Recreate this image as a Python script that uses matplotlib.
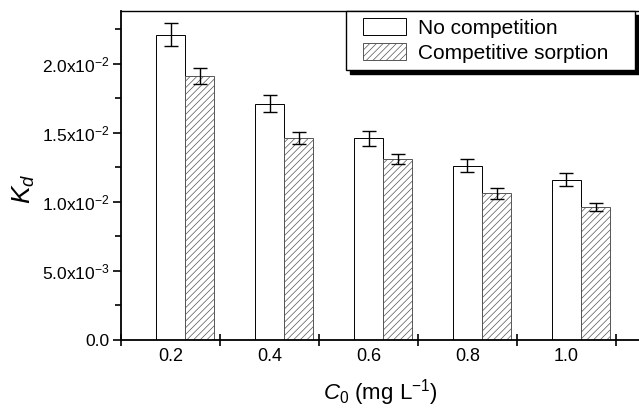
import numpy as np
import matplotlib
matplotlib.use("Agg")
import matplotlib.pyplot as plt
from matplotlib.ticker import MultipleLocator
from matplotlib.container import BarContainer
from matplotlib.legend_handler import HandlerPatch, update_from_first_child

plt.rcParams['font.family'] = ['Liberation Sans', 'DejaVu Sans']
plt.rcParams['mathtext.fontset'] = 'custom'
plt.rcParams['mathtext.rm'] = 'Liberation Sans'
plt.rcParams['mathtext.it'] = 'Liberation Sans:italic'
plt.rcParams['hatch.linewidth'] = 0.5

# data
c0 = [0.2, 0.4, 0.6, 0.8, 1.0]
c0_labels = ['0.2', '0.4', '0.6', '0.8', '1.0']
kd_nocomp = [0.0221, 0.0171, 0.0146, 0.0126, 0.0116]
err_nocomp = [0.0008, 0.0006, 0.00053, 0.00048, 0.00045]
kd_comp = [0.0191, 0.0146, 0.0131, 0.0106, 0.0096]
err_comp = [0.00057, 0.00042, 0.00038, 0.0004, 0.0003]
yticks = [0.0, 0.005, 0.010, 0.015, 0.020]
ytick_labels = ['0.0', '5.0x10$^{-3}$', '1.0x10$^{-2}$', '1.5x10$^{-2}$', '2.0x10$^{-2}$']

fig = plt.figure(figsize=(6.39, 4.09), dpi=100)
ax = fig.add_axes([0.1894, 0.1687, 0.8106, 0.8043])

w = 0.059
x = np.array(c0)
ax.bar(x, kd_nocomp, w, color='white', edgecolor='black', linewidth=0.7,
       yerr=err_nocomp, capsize=5, error_kw=dict(elinewidth=1, capthick=1),
       label='No competition')
ax.bar(x + w, kd_comp, w, color='white', edgecolor='#555555', linewidth=0.7,
       hatch='/////', yerr=err_comp, capsize=5,
       error_kw=dict(elinewidth=1, capthick=1), label='Competitive sorption')

ax.set_xlim(0.1, 1.1465)
ax.set_ylim(0, 0.0238)

ax.set_xticks(np.arange(0.1, 1.15, 0.2))
ax.set_xticklabels([])
ax.set_xticks(x, minor=True)
ax.set_xticklabels(c0_labels, minor=True, fontsize=13)
ax.tick_params(axis='x', which='major', direction='inout', length=9, width=1.2)
ax.tick_params(axis='x', which='minor', length=0, pad=6)

ax.set_yticks(yticks)
ax.set_yticklabels(ytick_labels, fontsize=12.5)
ax.yaxis.set_minor_locator(MultipleLocator(0.0025))
ax.tick_params(axis='y', which='major', direction='out', length=6, width=1.2, pad=2)
ax.tick_params(axis='y', which='minor', direction='out', length=4, width=1.2)

ax.spines['right'].set_visible(False)
for s in ['left', 'bottom']:
    ax.spines[s].set_linewidth(1.3)
ax.spines['top'].set_linewidth(1.0)

ax.set_ylabel('$K_d$', fontsize=19)
ax.yaxis.set_label_coords(-0.162, 0.459)
ax.set_xlabel('$C_0$ (mg L$^{-1}$)', fontsize=16)
ax.xaxis.set_label_coords(0.5, -0.1125)

# legend box spans a fixed width, handles pushed in a bit from the left edge
hmap = {BarContainer: HandlerPatch(xpad=0.48, update_func=update_from_first_child)}
leg = ax.legend(loc='upper left', bbox_to_anchor=(0.434, 0, 0.558, 1.0),
                mode='expand', borderaxespad=0, handler_map=hmap,
                fontsize=15, fancybox=False, edgecolor='black', framealpha=1,
                shadow={'color': 'black', 'alpha': 1, 'ox': 3, 'oy': -3},
                handlelength=2.55, handleheight=0.85, borderpad=0.35,
                labelspacing=0.25, handletextpad=0.55)
leg.get_frame().set_linewidth(1.0)

fig.savefig('out.png', dpi=100)
